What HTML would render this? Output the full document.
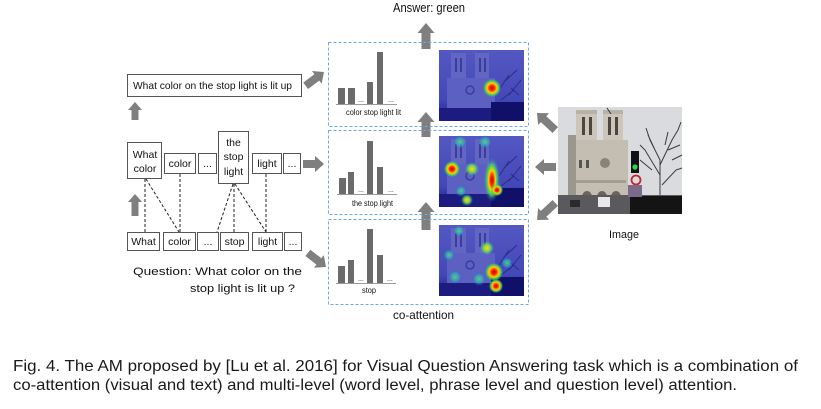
<!DOCTYPE html>
<html><head><meta charset="utf-8">
<style>
html,body{margin:0;padding:0;background:#fff;}
svg{display:block;}
text{font-family:"Liberation Sans",sans-serif;fill:#111;}
</style></head>
<body>
<svg width="821" height="409" viewBox="0 0 821 409" xmlns="http://www.w3.org/2000/svg">
<defs>
  <radialGradient id="hot"><stop offset="0" stop-color="#c80000"/><stop offset="0.3" stop-color="#ff3000"/><stop offset="0.55" stop-color="#ffd000"/><stop offset="0.8" stop-color="#40e040" stop-opacity="0.8"/><stop offset="1" stop-color="#30c0c0" stop-opacity="0"/></radialGradient>
  <radialGradient id="warm"><stop offset="0" stop-color="#ffe000"/><stop offset="0.5" stop-color="#80e040" stop-opacity="0.9"/><stop offset="1" stop-color="#30c0c0" stop-opacity="0"/></radialGradient>
  <radialGradient id="cool"><stop offset="0" stop-color="#50e070" stop-opacity="0.9"/><stop offset="0.6" stop-color="#30b0c0" stop-opacity="0.6"/><stop offset="1" stop-color="#3050d0" stop-opacity="0"/></radialGradient>
  <linearGradient id="hmbase" x1="0" y1="0" x2="0" y2="1"><stop offset="0" stop-color="#5358c2"/><stop offset="0.7" stop-color="#4348b8"/><stop offset="1" stop-color="#1a1a82"/></linearGradient>
  <g id="cath">
    <rect x="0" y="0" width="85" height="71" fill="url(#hmbase)"/>
    <rect x="12" y="3" width="15" height="60" fill="#6266c2"/>
    <rect x="36" y="3" width="14" height="60" fill="#6266c2"/>
    <rect x="8" y="28" width="48" height="35" fill="#5c60c0"/>
    <rect x="16" y="8" width="2" height="14" fill="#3a3e9a"/><rect x="21" y="8" width="2" height="14" fill="#3a3e9a"/>
    <rect x="40" y="8" width="2" height="14" fill="#3a3e9a"/><rect x="45" y="8" width="2" height="14" fill="#3a3e9a"/>
    <circle cx="31" cy="40" r="4" fill="none" stroke="#3a3e9a" stroke-width="1.5"/>
    <path d="M60 40 L70 25 M65 32 L78 20 M70 45 L82 30 M72 38 L80 45 M62 50 L75 40" stroke="#2a2d85" stroke-width="1" fill="none"/>
    <rect x="0" y="58" width="85" height="13" fill="#1c1c80"/>
    <rect x="52" y="52" width="33" height="19" fill="#101068"/>
  </g>
</defs>

<text x="393" y="12" font-size="12.5" textLength="72" lengthAdjust="spacingAndGlyphs">Answer: green</text>

<g fill="#7f7f7f">
  <polygon points="426,23 434.5,33 430.5,33 430.5,49 421.5,49 421.5,33 417.5,33"/>
  <polygon points="426,112 434.5,122 430.5,122 430.5,137 421.5,137 421.5,122 417.5,122"/>
  <polygon points="426,202 434.5,212 430.5,212 430.5,230 421.5,230 421.5,212 417.5,212"/>
  <polygon points="135,102 142,110 138.5,110 138.5,120 131.5,120 131.5,110 128,110"/>
  <polygon points="135,194 142,202 138.5,202 138.5,216 131.5,216 131.5,202 128,202"/>
  <g transform="translate(324,72) rotate(53)"><polygon points="0,0 8,9 4,9 4,23 -4,23 -4,9 -8,9"/></g>
  <g transform="translate(324,164) rotate(90)"><polygon points="0,0 8,9 4,9 4,21 -4,21 -4,9 -8,9"/></g>
  <g transform="translate(326,267) rotate(128)"><polygon points="0,0 8,9 4,9 4,23 -4,23 -4,9 -8,9"/></g>
  <g transform="translate(537,113) rotate(-47)"><polygon points="0,0 8,9 4,9 4,25 -4,25 -4,9 -8,9"/></g>
  <g transform="translate(535,167) rotate(-90)"><polygon points="0,0 8,9 4,9 4,21 -4,21 -4,9 -8,9"/></g>
  <g transform="translate(537,220) rotate(-133)"><polygon points="0,0 8,9 4,9 4,25 -4,25 -4,9 -8,9"/></g>
</g>

<g fill="none" stroke="#6fa8dc" stroke-width="1" stroke-dasharray="3,2">
  <rect x="328.5" y="42.5" width="200" height="84"/>
  <rect x="328.5" y="130.5" width="200" height="84"/>
  <rect x="328.5" y="219.5" width="200" height="85"/>
</g>

<g fill="#6b6b6b">
  <rect x="338" y="88" width="7" height="16"/><rect x="348" y="88" width="7" height="16"/>
  <rect x="367" y="82" width="6" height="22"/><rect x="377" y="52" width="6" height="52"/>
  <rect x="339" y="178" width="7" height="16"/><rect x="348" y="172" width="6" height="22"/>
  <rect x="367" y="141" width="6" height="53"/><rect x="377" y="167" width="6" height="27"/>
  <rect x="338" y="266" width="7" height="17"/><rect x="348" y="260" width="6" height="23"/>
  <rect x="367" y="229" width="6" height="54"/><rect x="377" y="255" width="6" height="28"/>
</g>
<g stroke="#9a9a9a" stroke-width="1">
  <line x1="336" y1="104.5" x2="397" y2="104.5"/>
  <line x1="337" y1="194.5" x2="397" y2="194.5"/>
  <line x1="336" y1="283.5" x2="396" y2="283.5"/>
</g>
<g fill="#333" font-size="7">
  <text x="358" y="102">...</text><text x="388" y="102">...</text>
  <text x="358" y="192">...</text><text x="388" y="192">...</text>
  <text x="358" y="281">...</text><text x="387" y="281">...</text>
</g>
<text x="346" y="115" font-size="8" textLength="55" lengthAdjust="spacingAndGlyphs">color stop light lit</text>
<text x="352" y="206" font-size="8" textLength="41" lengthAdjust="spacingAndGlyphs">the stop light</text>
<text x="362" y="293" font-size="8" textLength="14" lengthAdjust="spacingAndGlyphs">stop</text>

<g transform="translate(439,50)">
  <use href="#cath"/>
  <circle cx="53" cy="38" r="9" fill="url(#hot)"/>
</g>
<g transform="translate(439,136)">
  <use href="#cath"/>
  <circle cx="21" cy="6" r="7" fill="url(#cool)"/>
  <circle cx="46" cy="6" r="7" fill="url(#cool)"/>
  <circle cx="13" cy="33" r="8" fill="url(#hot)"/>
  <circle cx="33" cy="33" r="7" fill="url(#warm)"/>
  <circle cx="22" cy="55" r="6" fill="url(#cool)"/>
  <circle cx="28" cy="64" r="6" fill="url(#warm)"/>
  <ellipse cx="53" cy="44" rx="8" ry="22" fill="url(#warm)"/>
  <ellipse cx="53" cy="44" rx="6" ry="18" fill="url(#hot)"/>
  <circle cx="58" cy="54" r="6" fill="url(#hot)"/>
</g>
<g transform="translate(439,225)">
  <use href="#cath"/>
  <circle cx="20" cy="6" r="6" fill="url(#cool)"/>
  <circle cx="10" cy="30" r="6" fill="url(#cool)"/>
  <circle cx="48" cy="23" r="7" fill="url(#warm)"/>
  <circle cx="16" cy="52" r="7" fill="url(#cool)"/>
  <circle cx="40" cy="54" r="7" fill="url(#cool)"/>
  <circle cx="55" cy="47" r="9" fill="url(#hot)"/>
  <circle cx="57" cy="61" r="7" fill="url(#hot)"/>
  <circle cx="68" cy="38" r="6" fill="url(#cool)"/>
</g>

<g>
  <rect x="558" y="107" width="124" height="107" fill="#d9dbde"/>
  <rect x="568" y="135" width="10" height="65" fill="#9b978f"/>
  <rect x="576" y="112" width="21" height="85" fill="#cbc5ba"/>
  <rect x="603" y="112" width="20" height="85" fill="#cbc5ba"/>
  <rect x="576" y="140" width="52" height="57" fill="#c4beb2"/>
  <rect x="576" y="110" width="21" height="4" fill="#b8b2a6"/>
  <rect x="603" y="110" width="20" height="4" fill="#b8b2a6"/>
  <rect x="582" y="117" width="3" height="18" fill="#4a4640"/><rect x="589" y="117" width="3" height="18" fill="#4a4640"/>
  <rect x="608" y="117" width="3" height="18" fill="#4a4640"/><rect x="615" y="117" width="3" height="18" fill="#4a4640"/>
  <circle cx="605" cy="163" r="5" fill="#8a8478"/>
  <rect x="579" y="160" width="3" height="8" fill="#555"/><rect x="586" y="160" width="3" height="8" fill="#555"/>
  <rect x="576" y="180" width="50" height="3" fill="#a49e92"/>
  <path d="M582 197 a5 6 0 0 1 10 0 M597 197 a5 6 0 0 1 10 0 M611 197 a5 6 0 0 1 10 0" fill="#6a665e"/>
  <g stroke="#3a3a3a" stroke-width="1" fill="none">
    <path d="M660 200 L660 160 L650 140 M660 165 L672 140 L678 130 M660 175 L645 150 L640 145 M668 150 L680 145 M655 150 L648 135 M672 160 L682 155 M665 145 L668 132 M662 185 L676 170 L682 168 M650 140 L646 128 M678 130 L681 122 M640 160 L652 170"/>
  </g>
  <rect x="558" y="195" width="124" height="19" fill="#5a5a5e"/>
  <rect x="630" y="196" width="52" height="18" fill="#141414"/>
  <rect x="598" y="197" width="12" height="10" fill="#e8e8e8"/>
  <rect x="570" y="200" width="10" height="7" fill="#2a2a2a"/>
  <rect x="631" y="151" width="8" height="22" fill="#111"/>
  <circle cx="635" cy="167" r="2.6" fill="#22dd44"/>
  <circle cx="636" cy="180" r="4.5" fill="none" stroke="#c0282c" stroke-width="1.8"/>
  <rect x="628" y="185" width="14" height="12" fill="#7b6a8a"/>
  <path d="M607 108 L611 114" stroke="#333" stroke-width="1"/>
</g>
<text x="609" y="238" font-size="11" textLength="30" lengthAdjust="spacingAndGlyphs">Image</text>

<text x="393" y="319" font-size="12" textLength="61" lengthAdjust="spacingAndGlyphs">co-attention</text>

<g fill="#fff" stroke="#555" stroke-width="1">
  <rect x="127.5" y="74.5" width="174" height="22"/>
  <rect x="127.5" y="142.5" width="34" height="36"/>
  <rect x="164.5" y="153.5" width="31" height="20"/>
  <rect x="198.5" y="153.5" width="18" height="20"/>
  <rect x="218.5" y="131.5" width="30" height="52"/>
  <rect x="252.5" y="153.5" width="29" height="20"/>
  <rect x="283.5" y="153.5" width="17" height="20"/>
  <rect x="127.5" y="232.5" width="32" height="18"/>
  <rect x="163.5" y="232.5" width="32" height="18"/>
  <rect x="197.5" y="232.5" width="21" height="18"/>
  <rect x="220.5" y="232.5" width="28" height="18"/>
  <rect x="252.5" y="232.5" width="30" height="18"/>
  <rect x="284.5" y="232.5" width="17" height="18"/>
</g>
<g stroke="#222" stroke-width="1" stroke-dasharray="3,2" fill="none">
  <line x1="145" y1="179" x2="145" y2="232"/>
  <line x1="146" y1="179" x2="179" y2="232"/>
  <line x1="180" y1="174" x2="180" y2="232"/>
  <line x1="233" y1="184" x2="217" y2="232"/>
  <line x1="234" y1="184" x2="234" y2="232"/>
  <line x1="235" y1="184" x2="266" y2="232"/>
  <line x1="266" y1="174" x2="266" y2="232"/>
</g>
<g font-size="10.5">
  <text x="133" y="89" textLength="159" lengthAdjust="spacingAndGlyphs">What color on the stop light is lit up</text>
  <text x="145" y="158" text-anchor="middle">What</text>
  <text x="145" y="172" text-anchor="middle">color</text>
  <text x="180" y="167" text-anchor="middle">color</text>
  <text x="207.5" y="167" text-anchor="middle">...</text>
  <text x="233.5" y="146" text-anchor="middle">the</text>
  <text x="233.5" y="160" text-anchor="middle">stop</text>
  <text x="233.5" y="175" text-anchor="middle">light</text>
  <text x="267" y="167" text-anchor="middle">light</text>
  <text x="292" y="167" text-anchor="middle">...</text>
  <text x="143.5" y="245" text-anchor="middle">What</text>
  <text x="179.5" y="245" text-anchor="middle">color</text>
  <text x="208" y="245" text-anchor="middle">...</text>
  <text x="234.5" y="245" text-anchor="middle">stop</text>
  <text x="267.5" y="245" text-anchor="middle">light</text>
  <text x="293" y="245" text-anchor="middle">...</text>
</g>
<text x="133" y="275" font-size="11" textLength="169" lengthAdjust="spacingAndGlyphs">Question: What color on the</text>
<text x="190" y="292" font-size="11" textLength="105" lengthAdjust="spacingAndGlyphs">stop light is lit up  ?</text>

<text x="13" y="371" font-size="15.5" textLength="785" lengthAdjust="spacingAndGlyphs" style="fill:#1a1a1a">Fig. 4.  The AM proposed by [Lu et al. 2016] for Visual Question Answering task which is a combination of</text>
<text x="13" y="390" font-size="15.5" textLength="724" lengthAdjust="spacingAndGlyphs" style="fill:#1a1a1a">co-attention (visual and text) and multi-level (word level, phrase level and question level) attention.</text>
</svg>
</body></html>
